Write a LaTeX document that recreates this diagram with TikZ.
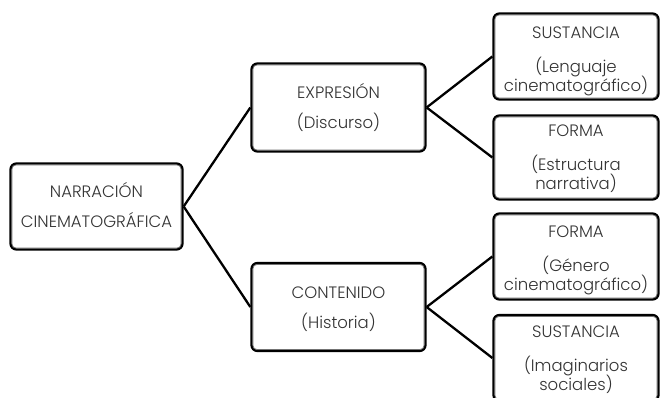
\documentclass[tikz,border=0pt]{standalone}
\usepackage{fontspec}
\setmainfont{Poppins}[UprightFont=* Light]
\definecolor{txt}{HTML}{333333}
\begin{document}
\begin{tikzpicture}[x=1pt,y=-1pt,
  box/.style={draw=black, line width=2.3pt, rounded corners=6pt, fill=white,
    inner sep=0pt},
  lbl/.style={align=center, text=txt, inner sep=0pt, anchor=base,
    font=\fontsize{16.5}{19}\selectfont,
    execute at begin node={\lineskiplimit=-30pt\relax}},
  inner/.style={draw=black!55, line width=0.8pt, rounded corners=4pt},
  conn/.style={draw=black, line width=2.3pt}]
\useasboundingbox (0,0) rectangle (661,398);
\clip (0,0) rectangle (661,398);
\node[box, minimum width=172pt, minimum height=86pt] (root) at (96.5,206.5) {};
\node[box, minimum width=174pt, minimum height=88pt] (expr) at (338.5,107.5) {};
\node[box, minimum width=174pt, minimum height=88pt] (cont) at (338.5,307) {};
\node[box, minimum width=165pt, minimum height=86pt] (s1) at (576,56.5) {};
\node[box, minimum width=165pt, minimum height=84pt] (f1) at (576,157.5) {};
\node[box, minimum width=165pt, minimum height=86pt] (f2) at (576,256.5) {};
\node[box, minimum width=165pt, minimum height=86pt] (s2) at (576,358) {};
\foreach \n in {root,expr,cont,s1,f1,f2,s2}{
  \draw[inner] ([xshift=2.6pt,yshift=-2.6pt]\n.north west) rectangle ([xshift=-2.6pt,yshift=2.6pt]\n.south east);
}
\node[lbl] (roott) at (96.5,228) {NARRACIÓN\\[11pt]CINEMATOGRÁFICA};
\node[lbl] (exprt) at (338.5,129) {EXPRESIÓN\\[11pt](Discurso)};
\node[lbl] (contt) at (338.5,328) {CONTENIDO\\[11pt](Historia)};
\node[lbl] (s1t) at (576,92) {SUSTANCIA\\[15pt](Lenguaje\\cinematográfico)};
\node[lbl] (f1t) at (576,190) {FORMA\\[15pt](Estructura\\narrativa)};
\node[lbl] (f2t) at (576,290) {FORMA\\[15pt](Género\\cinematográfico)};
\node[lbl] (s2t) at (576,390) {SUSTANCIA\\[15pt](Imaginarios\\sociales)};
\draw[conn] (root.east) -- (expr.west);
\draw[conn] (root.east) -- (cont.west);
\draw[conn] (expr.east) -- (s1.west);
\draw[conn] (expr.east) -- (f1.west);
\draw[conn] (cont.east) -- (f2.west);
\draw[conn] (cont.east) -- (s2.west);
\end{tikzpicture}
\end{document}
